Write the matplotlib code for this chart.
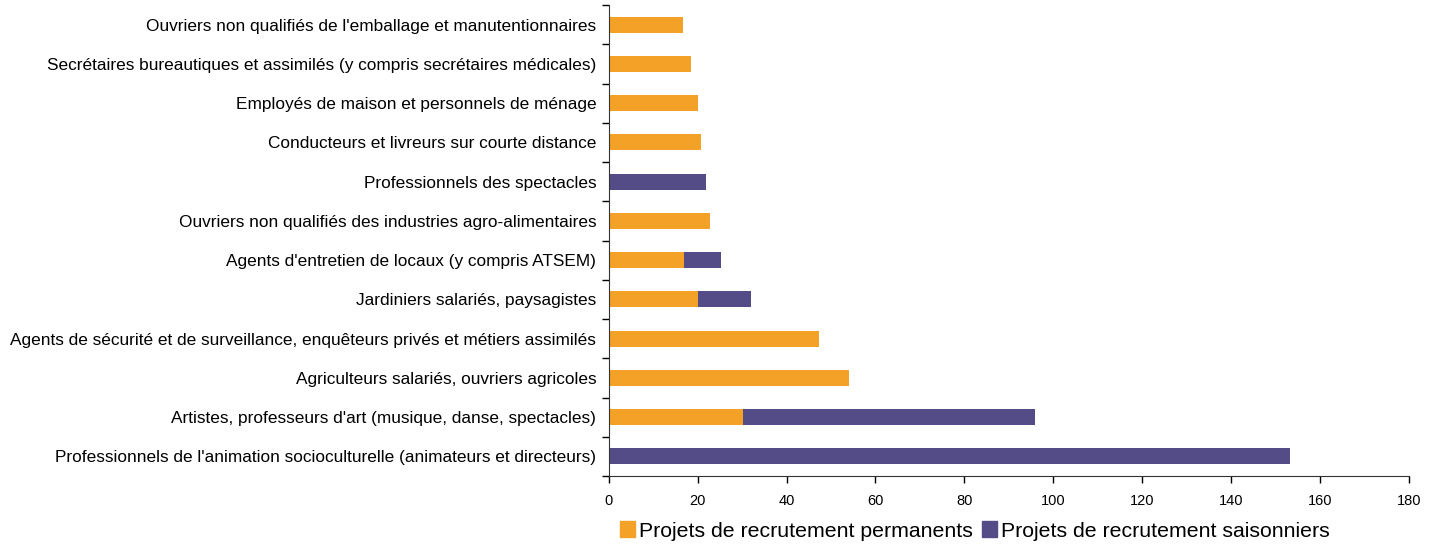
import matplotlib
matplotlib.use("Agg")
import matplotlib.pyplot as plt
import numpy as np
from matplotlib.patches import Patch

plt.rcParams['font.family'] = ['Liberation Sans', 'DejaVu Sans']

categories = [
    "Professionnels de l'animation socioculturelle (animateurs et directeurs)",
    "Artistes, professeurs d'art (musique, danse, spectacles)",
    "Agriculteurs salariés, ouvriers agricoles",
    "Agents de sécurité et de surveillance, enquêteurs privés et métiers assimilés",
    "Jardiniers salariés, paysagistes",
    "Agents d'entretien de locaux (y compris ATSEM)",
    "Ouvriers non qualifiés des industries agro-alimentaires",
    "Professionnels des spectacles",
    "Conducteurs et livreurs sur courte distance",
    "Employés de maison et personnels de ménage",
    "Secrétaires bureautiques et assimilés (y compris secrétaires médicales)",
    "Ouvriers non qualifiés de l'emballage et manutentionnaires",
]
permanents = [0, 30.2, 54.0, 47.3, 20.1, 16.9, 22.8, 0, 20.8, 20.1, 18.5, 16.7]
saisonniers = [153.3, 65.7, 0, 0, 11.9, 8.3, 0, 21.9, 0, 0, 0, 0]
xticks = [0, 20, 40, 60, 80, 100, 120, 140, 160, 180]
series_names = ["Projets de recrutement permanents", "Projets de recrutement saisonniers"]

c_perm = "#F4A127"
c_sais = "#544C87"

fig = plt.figure(figsize=(14.4, 5.45), dpi=100)
ax = fig.add_axes([0.4227, 0.1266, 0.9785 - 0.4227, 0.9908 - 0.1266])

y = np.arange(len(categories))
ax.barh(y, permanents, height=0.41, color=c_perm)
ax.barh(y, saisonniers, left=permanents, height=0.41, color=c_sais)

ax.set_xlim(0, 180)
ax.set_ylim(-0.5, len(categories) - 0.5)
ax.set_xticks(xticks)
ax.set_xticklabels([str(v) for v in xticks], fontsize=10.5)
ax.set_yticks(y)
ax.set_yticklabels(categories, fontsize=12.4)
ax.set_yticks(np.arange(-0.5, len(categories) - 0.4, 1), minor=True)
ax.tick_params(axis='y', which='major', length=0, pad=9)
ax.tick_params(axis='y', which='minor', length=5, width=1)
ax.tick_params(axis='x', which='major', length=5, width=1, pad=8)

for s in ['top', 'right']:
    ax.spines[s].set_visible(False)
ax.spines['left'].set_color('#333333')
ax.spines['bottom'].set_color('#333333')

handles = [Patch(color=c_perm), Patch(color=c_sais)]
fig.legend(handles, series_names, loc='center', bbox_to_anchor=(0.677, 0.026),
           ncol=2, frameon=False, fontsize=15.3, handlelength=0.7, handleheight=0.8,
           handletextpad=0.2, columnspacing=0.4, borderaxespad=0)

fig.savefig("out.png", dpi=100)
